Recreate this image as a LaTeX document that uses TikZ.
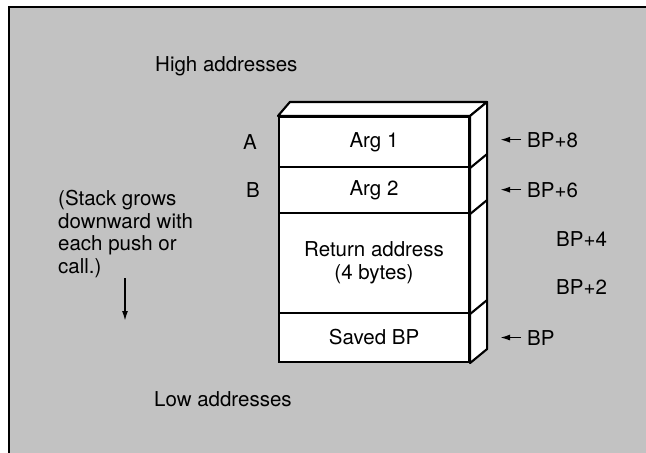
\documentclass[tikz,border=0pt]{standalone}
\usepackage{fontspec}
\setmainfont{TeX Gyre Heros}
\usetikzlibrary{arrows.meta}
\definecolor{paper}{gray}{0.76}
\begin{document}
\begin{tikzpicture}[x=1pt,y=-1pt,
  txt/.style={inner sep=0pt, font=\fontsize{20.5}{22.7}\selectfont},
  cell/.style={draw, line width=2.1pt, fill=white, minimum width=190pt,
    inner sep=0pt, align=center, font=\fontsize{20.5}{22.7}\selectfont},
  face/.style={draw, line width=2.1pt, fill=white, line join=round},
  ptr/.style={line width=1.6pt, -{Latex[length=10pt,width=6pt]}}]
  \useasboundingbox (0,0) rectangle (646,453);
  % sheet with its frame
  \fill[white] (0,0) rectangle (646,453);
  \fill[paper] (9,7) rectangle (646,453);
  \draw[line width=2.5pt] (9,453) -- (9,7) -- (646,7);

  % stack cells
  \node[cell, minimum height=50pt]  (arg1)  at (374,142)   {Arg 1};
  \node[cell, minimum height=46pt]  (arg2)  at (374,190)   {Arg 2};
  \node[cell, minimum height=100pt] (ret)   at (374,263)   {Return address\\(4 bytes)};
  \node[cell, minimum height=49pt]  (saved) at (374,337.5) {Saved BP};

  % box depth: top and right faces
  \path (arg1.north west) ++(12,-14) coordinate (btl);
  \path (arg1.north east) ++(17,-14) coordinate (btr);
  \path (saved.south east) ++(17,-14) coordinate (bbr);
  \draw[face] (arg1.north west) -- (btl) -- (btr) -- (arg1.north east) -- cycle;
  \draw[face] (arg1.north east) -- (btr) -- (bbr) -- (saved.south east) -- cycle;
  \foreach \c in {arg1,arg2,ret}
    \draw[line width=2.1pt] (\c.south east) -- ++(17,-14);

  % labels
  \node[txt, anchor=base west] (high) at (155,71.5) {High addresses};
  \node[txt, anchor=base west] (low)  at (154,406)  {Low addresses};
  \node[txt, anchor=base west] (la)   at (243,149)  {A};
  \node[txt, anchor=base west] (lb)   at (246,197)  {B};
  \node[txt, anchor=north west, align=left] (grow) at (58,190)
    {(Stack grows\\downward with\\each push or\\call.)};
  \coordinate (dtop) at (125,278);
  \coordinate (dbot) at (125,321);
  \draw[ptr] (dtop) -- (dbot);

  % frame-pointer offsets
  \node[txt, anchor=base west] (bp8) at (527,147) {BP+8};
  \node[txt, anchor=base west] (bp6) at (527,197) {BP+6};
  \node[txt, anchor=base west] (bp4) at (556,246) {BP+4};
  \node[txt, anchor=base west] (bp2) at (556,294) {BP+2};
  \node[txt, anchor=base west] (bp0) at (527,345) {BP};
  \foreach \n in {bp8,bp6,bp0} {
    \coordinate (\n tip) at (500,0 |- \n.west);
    \draw[ptr, shorten <=6pt] (\n.west) -- (\n tip);
  }
\end{tikzpicture}
\end{document}
